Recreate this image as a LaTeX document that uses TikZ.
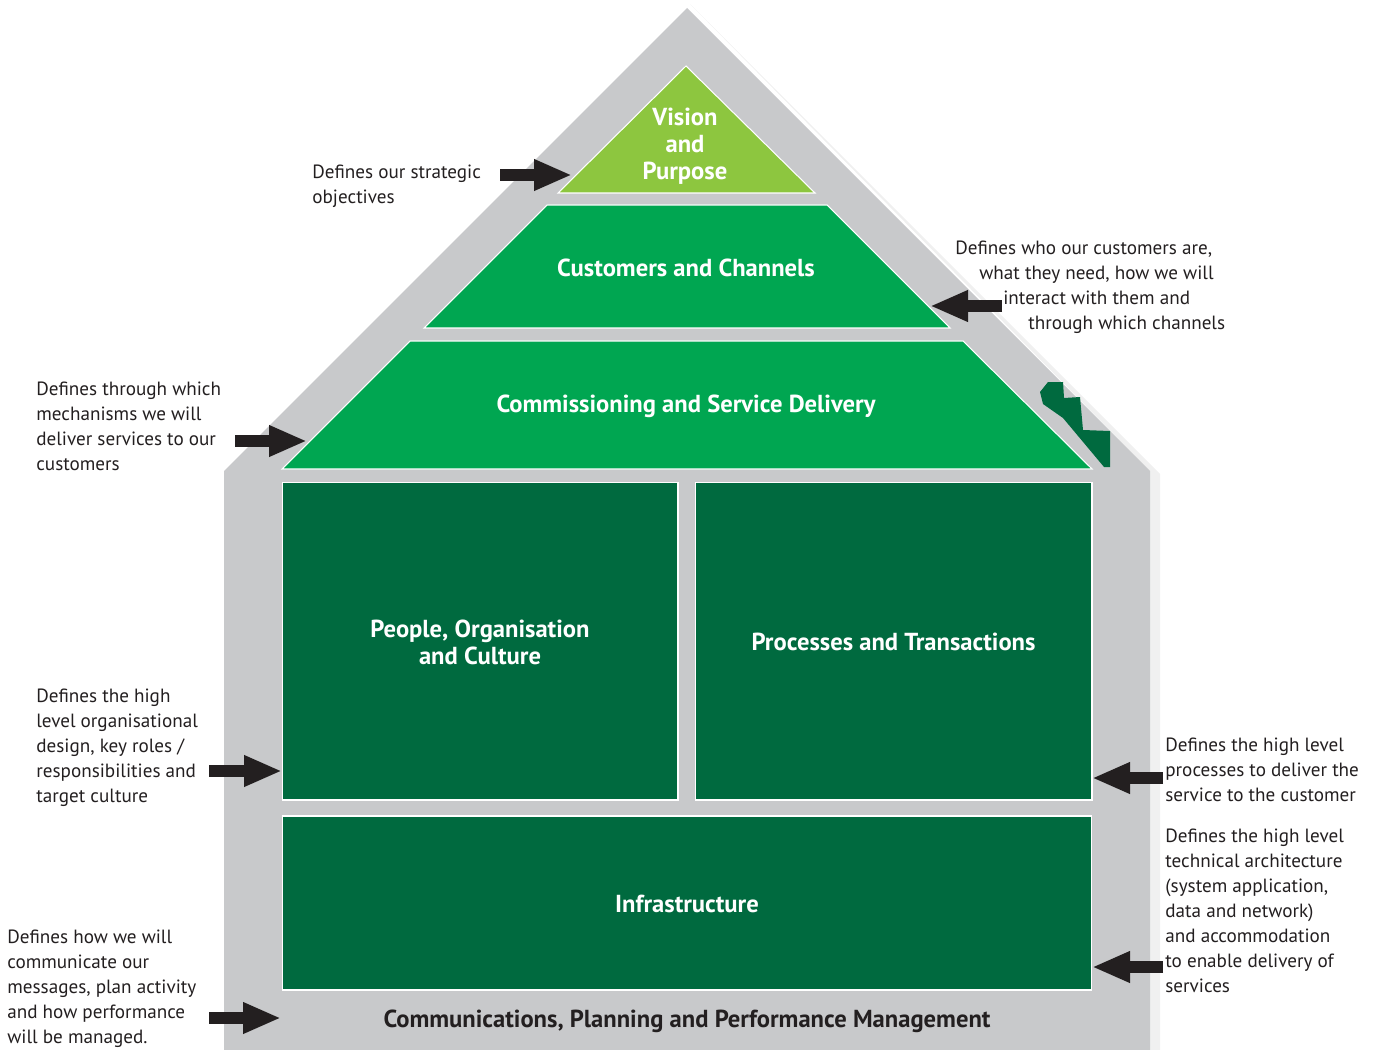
\documentclass[tikz,border=0pt]{standalone}
\usepackage{fontspec}
\setmainfont{PT Sans}
\usepackage{xcolor}
\usetikzlibrary{arrows.meta}

\definecolor{housegray}{HTML}{C8C9CB}
\definecolor{lightgreen}{HTML}{8DC63F}
\definecolor{midgreen}{HTML}{00A651}
\definecolor{darkgreen}{HTML}{006A3F}
\definecolor{textdark}{HTML}{231F20}

\tikzset{
  blocklabel/.style={text=white,font=\fontsize{14}{15.3}\selectfont\bfseries,align=center,inner sep=0pt},
  note/.style={text=textdark,font=\fontsize{10.9}{14.2}\selectfont,align=left,inner sep=0pt,anchor=north west},
  darkbox/.style={fill=darkgreen,draw=white,line width=0.6pt,inner sep=0pt},
  blockarrow/.style={draw=textdark,line width=0.24cm,-{Triangle[length=0.76cm,width=0.58cm]}}
}

\begin{document}
\begin{tikzpicture}[x=0.02cm,y=-0.02cm]
	\useasboundingbox (0,0) rectangle (1381,1050);
	% house
	\fill[gray!12] (690,4) -- (1160,474) -- (1160,1050) -- (1150,1050) -- (1150,471) -- cycle;
	\fill[housegray] (687,8) -- (1150,471) -- (1150,1050) -- (224,1050) -- (224,471) -- cycle;
	\fill[darkgreen] (1040,392) -- (1048,382) -- (1063,382) -- (1064,398) -- (1080,397) -- (1083,430) -- (1110,431) -- (1110,467) -- (1104,467) -- (1063,418) -- (1043,404) -- cycle;
	% roof layers
	\filldraw[fill=lightgreen,draw=white,line width=0.6pt] (686,66) -- (815,193) -- (558,193) -- cycle;
	\filldraw[fill=midgreen,draw=white,line width=0.6pt] (547,205) -- (827,205) -- (950,328) -- (424,328) -- cycle;
	\filldraw[fill=midgreen,draw=white,line width=0.6pt] (410,341) -- (963,341) -- (1092,469) -- (282,469) -- cycle;
	\node[blocklabel] at (685,146) (vision) {Vision\\and\\Purpose};
	\node[blocklabel] at (686,268) (customers) {Customers and Channels};
	\node[blocklabel] at (686,406) (commissioning) {Commissioning and Service Delivery};
	% walls
	\node[darkbox,minimum width=7.92cm,minimum height=6.36cm] at (480,641) (people) {};
	\node[darkbox,minimum width=7.94cm,minimum height=6.36cm] at (893.5,641) (processes) {};
	\node[darkbox,minimum width=16.2cm,minimum height=3.48cm] at (687,903) (infra) {};
	\node[blocklabel] at ([yshift=-0.02cm]people) {People, Organisation\\and Culture};
	\node[blocklabel] at ([yshift=-0.02cm]processes) {Processes and Transactions};
	\node[blocklabel] at ([yshift=-0.02cm]infra) {Infrastructure};
	\node[blocklabel,text=textdark] at (687,1021) (comms) {Communications, Planning and Performance Management};
	% notes
	\node[note] at (312,165) (n1) {Defines our strategic\\objectives};
	\node[note] at (955,241) (n2) {Defines who our customers are,\\\hspace*{0.48cm}what they need, how we will\\\hspace*{0.96cm}interact with them and\\\hspace*{1.46cm}through which channels};
	\node[note] at (36,382) (n3) {Defines through which\\mechanisms we will\\deliver services to our\\customers};
	\node[note] at (36,689) (n4) {Defines the high\\level organisational\\design, key roles /\\responsibilities and\\target culture};
	\node[note] at (1165,738) (n5) {Defines the high level\\processes to deliver the\\service to the customer};
	\node[note] at (1165,829) (n6) {Defines the high level\\technical architecture\\(system application,\\data and network)\\and accommodation\\to enable delivery of\\services};
	\node[note] at (7,930) (n7) {Defines how we will\\communicate our\\messages, plan activity\\and how performance\\will be managed.};
	% arrows
	\coordinate (a1) at (500,175); \coordinate (b1) at (572,175);
	\coordinate (a2) at (1002,306); \coordinate (b2) at (930,306);
	\coordinate (a3) at (235,441); \coordinate (b3) at (307,441);
	\coordinate (a4) at (209,771); \coordinate (b4) at (282,771);
	\coordinate (a5) at (1163,778); \coordinate (b5) at (1092,778);
	\coordinate (a6) at (1163,967); \coordinate (b6) at (1092,967);
	\coordinate (a7) at (209,1018); \coordinate (b7) at (281,1018);
	\foreach \i in {1,...,7}
		\draw[blockarrow] (a\i) -- (b\i);
\end{tikzpicture}
\end{document}
